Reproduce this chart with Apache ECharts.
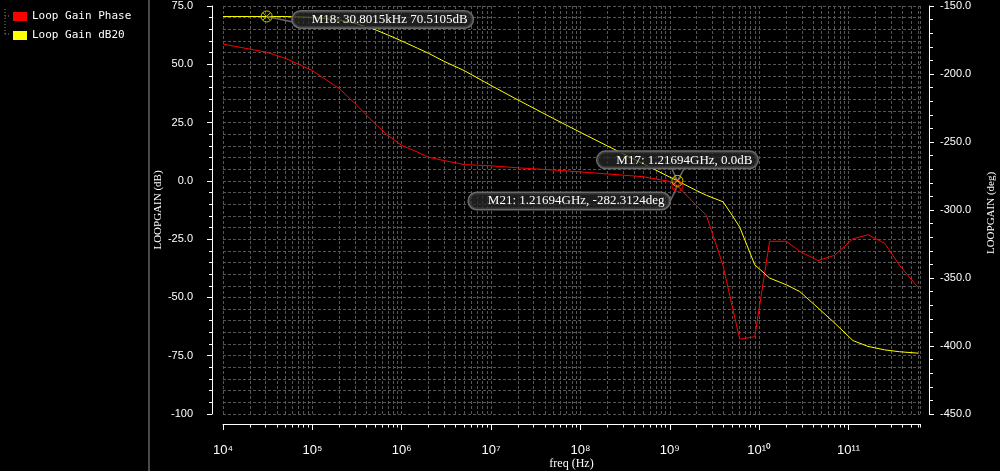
<!DOCTYPE html>
<html>
<head>
<meta charset="utf-8">
<script src="https://cdn.jsdelivr.net/npm/echarts@6/dist/echarts.min.js"></script>
<style>
html, body { margin: 0; padding: 0; background: #000; }
#chart { width: 1000px; height: 471px; }
</style>
</head>
<body>
<div id="chart"></div>
<script>
// frequency points (Hz) and the two traces
var freqHz = [1e4, 2e4, 3.08e4, 5e4, 1e5, 2e5, 3e5, 5e5, 7e5, 1e6, 1.5e6, 2e6, 3e6, 5e6,
	1e7, 2e7, 5e7, 1e8, 2e8, 5e8, 1e9, 1.217e9, 2e9, 2.57e9, 3.95e9, 4.88e9, 6.07e9, 8.93e9,
	1.31e10, 2.02e10, 2.85e10, 4.56e10, 7.0e10, 1.12e11, 1.65e11, 2.54e11, 3.74e11, 6.0e11];
var gainDb = [70.5, 70.5, 70.5, 70.5, 70.1, 69.0, 67.6, 64.9, 62.6, 60.0, 56.9, 54.7, 51.2, 47.3,
	40.9, 34.7, 26.7, 20.8, 15.0, 7.4, 1.6, 0.0, -4.2, -6.2, -9.0, -14.2, -19.9, -36.0,
	-41.7, -44.6, -47.5, -54.5, -61.0, -68.5, -71.0, -72.5, -73.3, -73.9];
var phaseDeg = [-178.0, -181.7, -184.0, -188.5, -197.5, -210.7, -221.7, -236.5, -245.1, -252.5, -257.4, -261.2, -263.7, -266.6,
	-267.5, -269.0, -270.6, -272.0, -273.5, -275.5, -279.0, -282.3, -296.8, -304.0, -340.9, -368.0, -395.0, -393.2,
	-323.0, -323.0, -330.4, -337.2, -333.3, -321.2, -318.2, -324.5, -340.9, -356.9];

// x axis decades (exponents) and markers
var decadeExp = [4, 5, 6, 7, 8, 9, 10, 11];
var xMaxLog = 11.8;
var markerFreq = [30801.5, 1.21694e9, 1.21694e9];
var markerVal = [70.5105, 0.0, -282.3124];
var markerText = ['M18: 30.8015kHz 70.5105dB', 'M17: 1.21694GHz, 0.0dB', 'M21: 1.21694GHz, -282.3124deg'];

var supDigits = { '0': '\u2070', '1': '\u00b9', '2': '\u00b2', '3': '\u00b3', '4': '\u2074',
	'5': '\u2075', '6': '\u2076', '7': '\u2077', '8': '\u2078', '9': '\u2079' };
function sup(n) {
	return String(n).split('').map(function (c) { return supDigits[c]; }).join('');
}

var minorTicks = [];
decadeExp.forEach(function (e) {
	for (var k = 1; k <= 9; k++) {
		var v = Math.log10(k) + e;
		if (v <= xMaxLog) minorTicks.push(v);
	}
});
minorTicks.push(xMaxLog);

function toXY(vals) {
	return freqHz.map(function (f, i) { return [Math.log10(f), vals[i]]; });
}
function mcoord(i) {
	return [Math.log10(markerFreq[i]), markerVal[i]];
}

var markSymbol = 'path://M12,2A10,10,0,1,1,12,22A10,10,0,1,1,12,2ZM5,5L19,19M19,5L5,19';
var markLabel = {
	color: '#fff',
	fontFamily: 'Liberation Serif',
	fontSize: 13,
	backgroundColor: 'rgba(40,40,40,0.75)',
	borderColor: '#6a6a6a',
	borderWidth: 1.5,
	borderRadius: 8,
	padding: [2, 5, 1, 19]
};
function marker(i, color, pos) {
	return {
		coord: mcoord(i),
		symbol: markSymbol,
		symbolSize: 11,
		itemStyle: { color: 'rgba(0,0,0,0)', borderColor: color, borderWidth: 1 },
		label: Object.assign({ show: true, formatter: markerText[i] }, markLabel, pos)
	};
}
// small leader lines from a marker to its label box
function leaders(items) {
	return {
		silent: true,
		symbol: ['none', 'none'],
		label: { show: false },
		lineStyle: { color: '#6a6a6a', width: 1.5, type: 'solid' },
		data: items
	};
}

var white = { color: '#fff', width: 1 };
var gridLine = { color: '#555', width: 1, type: [3, 2] };

var chart = echarts.init(document.getElementById('chart'));
chart.setOption({
	backgroundColor: '#000',
	animation: false,
	legend: {
		data: ['Loop Gain Phase', 'Loop Gain dB20'],
		orient: 'vertical',
		left: 8,
		top: 6,
		itemWidth: 14,
		itemHeight: 9,
		itemGap: 8,
		icon: 'rect',
		textStyle: { color: '#fff', fontFamily: 'DejaVu Sans Mono', fontSize: 11 }
	},
	graphic: [
		{ type: 'line', shape: { x1: 149, y1: 0, x2: 149, y2: 471 }, style: { stroke: '#4a4a4a', lineWidth: 2 } },
		{ type: 'polyline', shape: { points: [[5, 9], [5, 34]] }, style: { stroke: '#888', lineDash: [1, 2] } },
		{ type: 'polyline', shape: { points: [[5, 16], [11, 16]] }, style: { stroke: '#888', lineDash: [1, 2] } },
		{ type: 'polyline', shape: { points: [[5, 34], [11, 34]] }, style: { stroke: '#888', lineDash: [1, 2] } }
	],
	grid: { left: 223, right: 80, top: 6, bottom: 57, containLabel: false, outerBoundsMode: 'none' },
	xAxis: [{
		type: 'value',
		min: 4,
		max: xMaxLog,
		position: 'bottom',
		offset: 10,
		axisLine: { onZero: false, lineStyle: white },
		axisTick: { customValues: minorTicks, length: 3.5, lineStyle: white },
		axisLabel: {
			customValues: decadeExp,
			formatter: function (v) { return '10' + sup(v); },
			color: '#fff', fontFamily: 'Liberation Sans', fontSize: 13, margin: 20
		},
		splitLine: { show: true, lineStyle: gridLine },
		name: 'freq (Hz)',
		nameLocation: 'middle',
		nameGap: 34,
		nameMoveOverlap: false,
		nameTextStyle: { color: '#fff', fontFamily: 'Liberation Serif', fontSize: 12 }
	}, {
		type: 'value',
		min: 4,
		max: xMaxLog,
		position: 'bottom',
		offset: 10,
		axisLine: { show: false, onZero: false },
		axisTick: { customValues: decadeExp, length: 6, lineStyle: white },
		axisLabel: { show: false },
		splitLine: { show: false }
	}],
	yAxis: [{
		type: 'value',
		min: -100,
		max: 75,
		interval: 25,
		position: 'left',
		offset: 11,
		axisLine: { show: true, onZero: false, lineStyle: white },
		axisTick: { show: true, length: 5, lineStyle: white },
		minorTick: { show: true, splitNumber: 5, length: 3, lineStyle: white },
		axisLabel: {
			formatter: function (v) { return v === -100 ? '-100' : v.toFixed(1); },
			color: '#fff', fontFamily: 'Liberation Sans', fontSize: 11, margin: 19
		},
		splitLine: { show: true, lineStyle: gridLine },
		minorSplitLine: { show: true, lineStyle: gridLine },
		name: 'LOOPGAIN (dB)',
		nameLocation: 'middle',
		nameRotate: 90,
		nameGap: 48,
		nameMoveOverlap: false,
		nameTextStyle: { color: '#fff', fontFamily: 'Liberation Serif', fontSize: 11 }
	}, {
		type: 'value',
		min: -450,
		max: -150,
		interval: 50,
		position: 'right',
		offset: 9,
		axisLine: { show: true, onZero: false, lineStyle: white },
		axisTick: { show: true, length: 5, lineStyle: white },
		minorTick: { show: true, splitNumber: 5, length: 4, lineStyle: white },
		axisLabel: {
			formatter: function (v) { return v.toFixed(1); },
			color: '#fff', fontFamily: 'Liberation Sans', fontSize: 11, margin: 11
		},
		splitLine: { show: false },
		name: 'LOOPGAIN (deg)',
		nameLocation: 'middle',
		nameRotate: 90,
		nameGap: 57,
		nameTextStyle: { color: '#fff', fontFamily: 'Liberation Serif', fontSize: 11, padding: [0, 6, 0, 0] }
	}],
	series: [{
		name: 'Loop Gain Phase',
		type: 'line',
		yAxisIndex: 1,
		data: toXY(phaseDeg),
		showSymbol: false,
		color: '#ff0000',
		lineStyle: { width: 1 },
		markLine: leaders([[{ coord: mcoord(2) }, { x: 668, y: 206 }]]),
		markPoint: {
			data: [marker(2, '#e00000', { position: 'left', distance: 2, offset: [0, 15] })]
		}
	}, {
		name: 'Loop Gain dB20',
		type: 'line',
		yAxisIndex: 0,
		data: toXY(gainDb),
		showSymbol: false,
		color: '#ffff00',
		lineStyle: { width: 1 },
		markLine: leaders([
			[{ coord: mcoord(0) }, { x: 293, y: 22 }],
			[{ coord: mcoord(1) }, { x: 672, y: 169 }],
			[{ coord: mcoord(1) }, { x: 684, y: 169 }]
		]),
		markPoint: {
			data: [
				marker(0, '#c8c800', { position: 'right', distance: 20, offset: [0, 3] }),
				marker(1, '#c8c800', { position: 'top', distance: 7 })
			]
		}
	}]
});
</script>
</body>
</html>
